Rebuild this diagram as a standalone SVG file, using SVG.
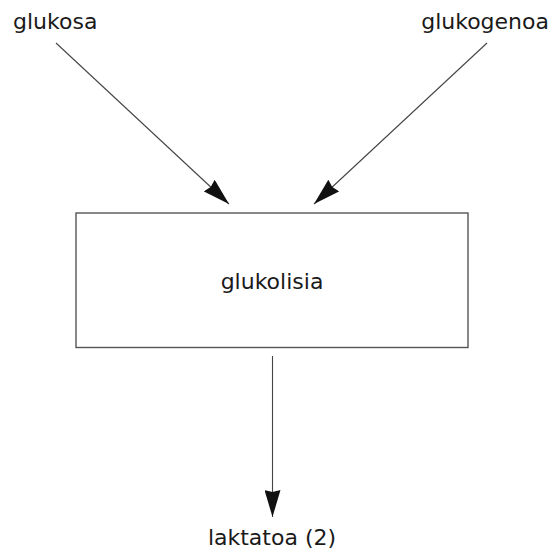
<svg xmlns="http://www.w3.org/2000/svg" width="554" height="551" viewBox="0 0 554 551">
  <style>
    .label { font-family: "DejaVu Sans", "Liberation Sans", sans-serif; font-size: 22px; fill: #1a1a1a; }
    .box { fill: #ffffff; stroke: #555555; stroke-width: 1.4; }
    .conn { stroke: #444444; stroke-width: 1.1; fill: none; marker-end: url(#head); }
  </style>
  <defs>
    <marker id="head" viewBox="0 0 27 16" refX="27" refY="8" markerWidth="27" markerHeight="16" markerUnits="userSpaceOnUse" orient="auto">
      <path d="M0,0 L27,8 L0,16 L2,8 Z" fill="#111111"/>
    </marker>
  </defs>
  <rect width="554" height="551" fill="#ffffff"/>

  <g id="connectors">
    <line class="conn" x1="56" y1="43" x2="229" y2="204"/>
    <line class="conn" x1="487" y1="43" x2="314" y2="204"/>
    <line class="conn" x1="272.5" y1="356" x2="272.5" y2="517"/>
  </g>

  <g id="glukosa">
    <text class="label" x="13" y="29">glukosa</text>
  </g>
  <g id="glukogenoa">
    <text class="label" x="549" y="29" text-anchor="end">glukogenoa</text>
  </g>
  <g id="glukolisia">
    <rect class="box" x="76" y="213" width="392" height="134.5"/>
    <text class="label" x="272" y="289" text-anchor="middle">glukolisia</text>
  </g>
  <g id="laktatoa">
    <text class="label" x="272" y="545" text-anchor="middle">laktatoa (2)</text>
  </g>
</svg>
